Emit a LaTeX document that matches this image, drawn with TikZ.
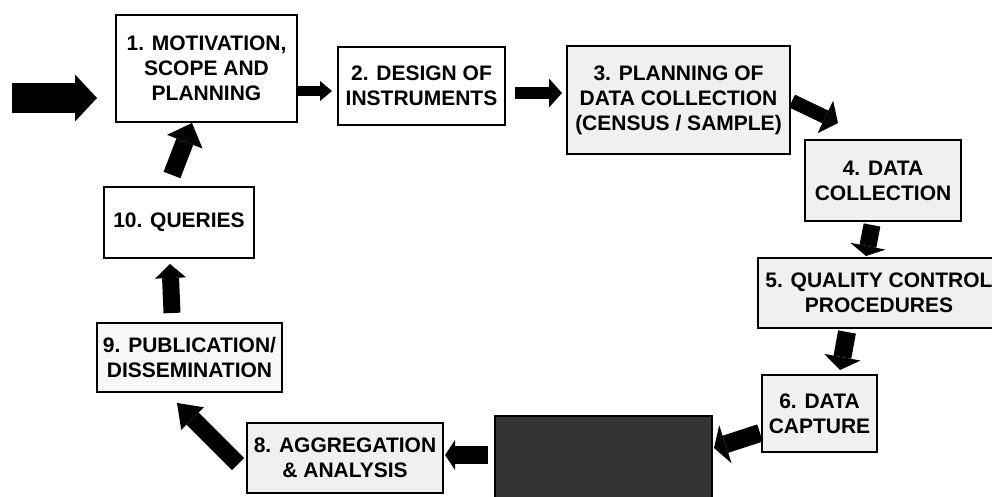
\documentclass[tikz,border=0pt]{standalone}
\usepackage{fontspec}
\setmainfont{Liberation Sans}
\usetikzlibrary{arrows.meta}
\tikzset{
  stage/.style={draw=black, line width=1.6pt, inner sep=0pt, align=center,
    font=\bfseries\fontsize{21}{25}\selectfont},
  plainbox/.style={stage, fill=white},
  speckbox/.style={stage, fill=black!6},
  lightbox/.style={stage, fill=black!3},
  darkbox/.style={stage, fill=black!80},
  blockarrow/.style n args={3}{draw=black, line width=#1,
    -{Triangle[width=#2, length=#3, line width=0pt]}},
}
\begin{document}
\begin{tikzpicture}[x=1pt,y=-1pt]
\fill[white] (0,0) rectangle (992,497);
\clip (0,0) rectangle (992,497);

% stages
\node[plainbox, minimum width=181pt, minimum height=107pt] (b1) at (206.5,68.5) {1. MOTIVATION,\\SCOPE AND\\PLANNING};
\node[plainbox, minimum width=167pt, minimum height=78pt] (b2) at (421.5,86) {2. DESIGN OF\\INSTRUMENTS};
\node[speckbox, minimum width=223pt, minimum height=108pt] (b3) at (678.5,100) {3. PLANNING OF\\DATA COLLECTION\\(CENSUS / SAMPLE)};
\node[speckbox, minimum width=156pt, minimum height=81pt] (b4) at (883,180.5) {4. DATA\\COLLECTION};
\node[speckbox, minimum width=242pt, minimum height=70pt] (b5) at (879,293) {5. QUALITY CONTROL\\PROCEDURES};
\node[speckbox, minimum width=115pt, minimum height=77pt] (b6) at (819.5,413.5) {6. DATA\\CAPTURE};
\node[darkbox, minimum width=217pt, minimum height=89pt] (b7) at (603.5,460.5) {};
\node[speckbox, minimum width=196pt, minimum height=70pt] (b8) at (345,458) {8. AGGREGATION\\\& ANALYSIS};
\node[lightbox, minimum width=185pt, minimum height=69pt] (b9) at (189.5,357.5) {9. PUBLICATION/\\DISSEMINATION};
\node[plainbox, minimum width=150pt, minimum height=71pt] (b10) at (179,222.5) {10. QUERIES};

% arrow end points
\coordinate (in0) at (12,98);   \coordinate (in1) at (97,98);
\coordinate (a1s) at (297,91);  \coordinate (a1e) at (332,91);
\coordinate (a2s) at (515,93);  \coordinate (a2e) at (562,93);
\coordinate (a3s) at (792,101); \coordinate (a3e) at (838,123);
\coordinate (a4s) at (872,225); \coordinate (a4e) at (866,256);
\coordinate (a5s) at (847,332); \coordinate (a5e) at (840,370);
\coordinate (a6s) at (760,433); \coordinate (a6e) at (714,448);
\coordinate (a7s) at (488,455); \coordinate (a7e) at (445,455);
\coordinate (a8s) at (238,464); \coordinate (a8e) at (177,403);
\coordinate (a9s) at (172,313); \coordinate (a9e) at (170,264);
\coordinate (a10s) at (172,175); \coordinate (a10e) at (192,123);

% block arrows
\draw[blockarrow={30pt}{47pt}{22pt}] (in0) -- (in1);
\draw[blockarrow={10pt}{20pt}{12pt}] (a1s) -- (a1e);
\draw[blockarrow={12pt}{29pt}{13pt}] (a2s) -- (a2e);
\draw[blockarrow={14pt}{36pt}{14pt}] (a3s) -- (a3e);
\draw[blockarrow={17pt}{36pt}{10pt}] (a4s) -- (a4e);
\draw[blockarrow={18pt}{37pt}{13pt}] (a5s) -- (a5e);
\draw[blockarrow={18pt}{40pt}{12pt}] (a6s) -- (a6e);
\draw[blockarrow={18pt}{30pt}{10pt}] (a7s) -- (a7e);
\draw[blockarrow={17pt}{32pt}{22pt}] (a8s) -- (a8e);
\draw[blockarrow={17pt}{31pt}{14pt}] (a9s) -- (a9e);
\draw[blockarrow={18pt}{38pt}{20pt}] (a10s) -- (a10e);
\end{tikzpicture}
\end{document}
